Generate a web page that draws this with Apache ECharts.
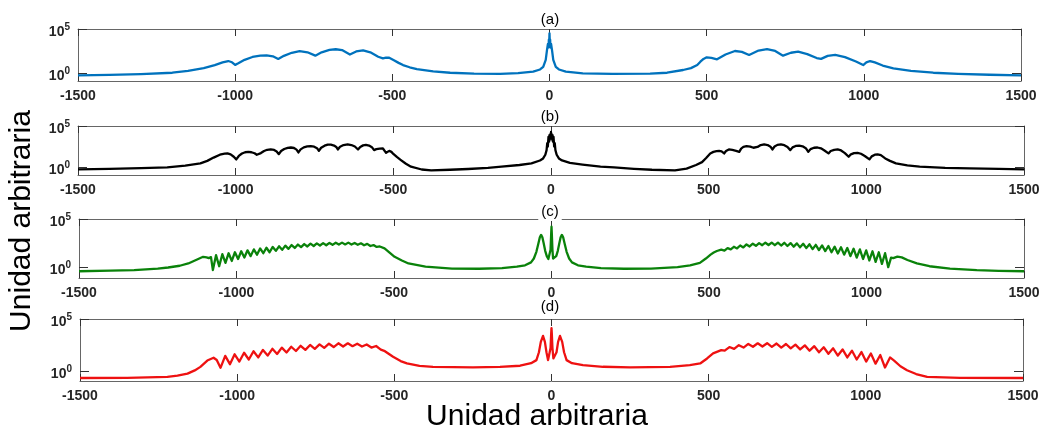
<!DOCTYPE html>
<html>
<head>
<meta charset="utf-8">
<script src="https://cdn.jsdelivr.net/npm/echarts@6/dist/echarts.min.js"></script>
<style>
html,body{margin:0;padding:0;background:#fff;}
#chart{width:1046px;height:434px;}
</style>
</head>
<body>
<div id="chart"></div>
<script>
// ---------- DATA (y values are log10 exponents) ----------
const xTickValues = [-1500, -1000, -500, 0, 500, 1000, 1500];
const yTickExponents = [0, 5];
const panelLabels = ['(a)', '(b)', '(c)', '(d)'];
const axisTitle = 'Unidad arbitraria';

const curveA = [[-1500,-0.27],[-1400,-0.22],[-1300,-0.13],[-1200,0.03],[-1150,0.25],[-1100,0.55],[-1065,0.9],[-1040,1.2],[-1022,1.36],[-1010,1.22],[-1000,0.92],[-990,1.1],[-970,1.5],[-945,1.82],[-920,1.97],[-900,2.0],[-880,1.9],[-863,1.6],[-845,1.95],[-820,2.3],[-795,2.48],[-770,2.35],[-745,1.97],[-725,2.35],[-700,2.62],[-680,2.7],[-660,2.6],[-635,2.1],[-615,2.45],[-593,2.58],[-570,2.35],[-545,1.85],[-530,1.67],[-520,1.75],[-510,1.73],[-495,1.45],[-480,1.15],[-466,0.9],[-445,0.65],[-422,0.45],[-370,0.19],[-316,0.03],[-240,-0.07],[-157,-0.1],[-100,-0.02],[-52,0.15],[-30,0.4],[-20,0.7],[-12,1.5],[-8,2.6],[-5,3.3],[-3,2.9],[-2,3.8],[-1,3.4],[0,4.5],[1,3.4],[2,3.8],[3,2.9],[5,3.3],[8,2.6],[12,1.5],[20,0.7],[30,0.4],[52,0.15],[106,-0.04],[200,-0.11],[320,-0.08],[374,0.03],[425,0.34],[450,0.55],[470,0.9],[480,1.28],[490,1.6],[500,1.78],[515,1.72],[533,1.56],[560,2.1],[590,2.5],[612,2.4],[635,2.05],[665,2.55],[692,2.7],[718,2.5],[743,1.97],[768,2.3],[791,2.42],[820,2.15],[850,1.7],[864,1.6],[885,1.95],[909,2.05],[940,1.8],[975,1.3],[998,0.9],[1008,1.2],[1020,1.36],[1035,1.2],[1060,0.85],[1094,0.53],[1150,0.25],[1221,0.03],[1300,-0.1],[1400,-0.2],[1500,-0.26]];

const curveB = [[-1500,-0.28],[-1400,-0.22],[-1300,-0.14],[-1217,-0.04],[-1160,0.18],[-1112,0.45],[-1090,0.75],[-1070,1.15],[-1050,1.5],[-1035,1.63],[-1026,1.66],[-1016,1.55],[-1006,1.25],[-998,0.93],[-990,1.35],[-980,1.65],[-970,1.8],[-960,1.85],[-950,1.8],[-940,1.68],[-933,1.5],[-927,1.33],[-920,1.7],[-910,1.95],[-900,2.1],[-889,2.14],[-878,2.08],[-870,1.9],[-863,1.57],[-856,1.95],[-846,2.2],[-835,2.34],[-825,2.38],[-815,2.32],[-807,2.12],[-801,1.78],[-794,2.15],[-784,2.4],[-773,2.52],[-762,2.54],[-751,2.48],[-742,2.3],[-736,1.97],[-729,2.35],[-718,2.6],[-708,2.73],[-698,2.72],[-688,2.62],[-681,2.45],[-676,2.14],[-669,2.48],[-658,2.68],[-645,2.75],[-633,2.68],[-622,2.5],[-612,2.14],[-605,2.45],[-596,2.64],[-587,2.7],[-577,2.62],[-568,2.42],[-561,2.06],[-554,2.18],[-543,2.25],[-533,2.26],[-527,2.05],[-523,1.73],[-518,1.9],[-513,1.97],[-506,1.85],[-500,1.6],[-488,1.2],[-476,0.85],[-460,0.4],[-444,0.04],[-410,-0.3],[-380,-0.4],[-320,-0.33],[-263,-0.24],[-200,-0.1],[-157,0.04],[-100,0.25],[-62,0.45],[-35,0.8],[-25,1.05],[-18,1.5],[-14,2.06],[-12,2.9],[-10,2.5],[-8,3.67],[-6,3.1],[-5,3.9],[-4,3.3],[-2,4.0],[-1,3.6],[0,4.27],[1,3.6],[2,4.0],[4,3.3],[5,3.9],[6,3.1],[8,3.67],[10,2.5],[12,2.9],[14,2.06],[18,1.5],[25,1.05],[35,0.8],[60,0.5],[100,0.3],[157,0.05],[200,-0.05],[263,-0.22],[320,-0.33],[393,-0.4],[430,-0.2],[460,0.25],[479,0.6],[492,1.1],[505,1.66],[515,1.85],[525,1.95],[533,1.97],[541,1.9],[549,1.66],[555,1.95],[564,2.14],[575,2.08],[587,1.98],[597,1.85],[603,2.25],[610,2.45],[620,2.54],[632,2.48],[642,2.35],[648,2.14],[655,2.45],[665,2.68],[676,2.75],[687,2.68],[696,2.48],[702,2.14],[709,2.5],[718,2.7],[729,2.75],[740,2.66],[750,2.45],[759,2.06],[766,2.4],[776,2.57],[787,2.6],[798,2.52],[808,2.3],[816,1.85],[823,2.18],[834,2.35],[845,2.38],[856,2.28],[866,2.05],[880,1.66],[887,1.95],[898,2.1],[909,2.14],[920,2.02],[932,1.7],[944,1.25],[951,1.55],[961,1.7],[972,1.73],[983,1.62],[995,1.35],[1010,0.93],[1017,1.3],[1027,1.5],[1036,1.54],[1046,1.45],[1060,1.05],[1075,0.75],[1094,0.45],[1130,0.2],[1169,0.04],[1250,-0.1],[1328,-0.16],[1420,-0.23],[1500,-0.28]];

const curveC = [[-1500,-0.42],[-1400,-0.36],[-1325,-0.31],[-1250,-0.15],[-1217,-0.03],[-1180,0.15],[-1153,0.39],[-1125,0.8],[-1106,1.08],[-1095,1.02],[-1088,0.94],[-1081,1.05],[-1075,-0.3],[-1065,1.25],[-1055,0.1],[-1045,1.35],[-1035,0.45],[-1025,1.45],[-1015,0.65],[-1005,1.55],[-995,0.85],[-985,1.65],[-975,1.0],[-965,1.75],[-955,1.15],[-945,1.85],[-935,1.3],[-925,1.95],[-915,1.45],[-905,2.02],[-895,1.55],[-885,2.1],[-875,1.7],[-865,2.17],[-855,1.8],[-845,2.24],[-835,1.9],[-825,2.3],[-815,2.0],[-805,2.35],[-795,2.08],[-785,2.4],[-775,2.15],[-765,2.44],[-755,2.2],[-745,2.47],[-735,2.25],[-725,2.5],[-715,2.28],[-705,2.52],[-695,2.32],[-685,2.54],[-675,2.35],[-665,2.55],[-655,2.36],[-645,2.55],[-635,2.35],[-625,2.52],[-615,2.33],[-605,2.48],[-595,2.28],[-585,2.42],[-575,2.2],[-565,2.3],[-555,2.1],[-545,2.15],[-530,1.96],[-515,1.55],[-498,1.08],[-475,0.7],[-454,0.39],[-400,0.05],[-316,-0.14],[-230,-0.16],[-157,-0.1],[-110,0.05],[-84,0.2],[-65,0.5],[-56,0.9],[-48,1.6],[-42,2.4],[-37,3.1],[-33,3.35],[-29,3.1],[-25,2.5],[-20,1.7],[-15,1.15],[-10,0.85],[-5,0.9],[-3,1.8],[-1,3.5],[0,4.2],[1,3.5],[3,1.8],[5,0.9],[10,0.85],[15,1.15],[20,1.7],[25,2.5],[29,3.1],[33,3.35],[37,3.1],[42,2.4],[48,1.6],[56,0.9],[65,0.5],[84,0.2],[110,0.05],[157,-0.1],[230,-0.16],[316,-0.14],[400,0.0],[440,0.2],[471,0.45],[490,0.9],[505,1.3],[515,1.52],[525,1.68],[539,1.82],[549,1.72],[559,1.98],[569,1.85],[579,2.12],[589,1.95],[599,2.25],[609,2.05],[619,2.36],[629,2.15],[639,2.44],[649,2.22],[659,2.5],[669,2.28],[679,2.54],[689,2.3],[699,2.55],[709,2.28],[719,2.55],[729,2.25],[739,2.53],[749,2.2],[759,2.5],[769,2.13],[779,2.47],[789,2.06],[799,2.43],[809,1.98],[819,2.38],[829,1.88],[839,2.32],[849,1.78],[859,2.26],[869,1.67],[879,2.2],[889,1.55],[899,2.13],[909,1.42],[919,2.07],[929,1.3],[939,2.0],[949,1.15],[959,1.92],[969,1.0],[979,1.85],[989,0.85],[999,1.75],[1009,0.7],[1019,1.65],[1029,0.55],[1039,1.55],[1049,0.35],[1059,1.45],[1069,0.0],[1078,1.0],[1085,0.95],[1098,1.1],[1112,1.02],[1130,0.75],[1160,0.39],[1200,0.1],[1265,-0.14],[1350,-0.3],[1420,-0.38],[1500,-0.42]];

const curveD = [[-1500,-0.68],[-1350,-0.66],[-1222,-0.58],[-1190,-0.45],[-1158,-0.26],[-1135,0.05],[-1117,0.39],[-1095,1.0],[-1075,1.27],[-1065,1.05],[-1053,0.3],[-1038,1.45],[-1023,0.65],[-1008,1.6],[-993,0.9],[-978,1.75],[-963,1.1],[-948,1.9],[-933,1.3],[-918,2.02],[-903,1.48],[-888,2.13],[-873,1.63],[-858,2.24],[-843,1.78],[-828,2.33],[-813,1.92],[-798,2.42],[-783,2.03],[-768,2.5],[-753,2.13],[-738,2.56],[-723,2.22],[-708,2.62],[-693,2.3],[-678,2.66],[-663,2.35],[-648,2.66],[-633,2.38],[-618,2.62],[-603,2.35],[-588,2.55],[-573,2.25],[-558,2.4],[-543,2.05],[-530,1.9],[-504,1.36],[-480,0.95],[-460,0.72],[-420,0.48],[-377,0.39],[-250,0.35],[-164,0.39],[-100,0.5],[-65,0.75],[-48,1.04],[-40,1.8],[-34,2.8],[-27,3.37],[-21,2.8],[-16,1.8],[-11,1.04],[-6,1.2],[-3,2.2],[-1,3.6],[0,4.12],[1,3.6],[3,2.2],[6,1.2],[11,1.04],[16,1.8],[21,2.8],[27,3.37],[34,2.8],[40,1.8],[48,1.04],[65,0.75],[100,0.55],[164,0.4],[250,0.35],[377,0.39],[440,0.55],[473,0.72],[495,1.2],[514,1.69],[530,1.88],[540,2.0],[551,1.95],[566,2.3],[581,2.12],[596,2.48],[611,2.25],[626,2.6],[641,2.33],[656,2.66],[671,2.35],[686,2.67],[701,2.32],[716,2.64],[731,2.25],[746,2.59],[761,2.17],[776,2.53],[791,2.07],[806,2.46],[821,1.95],[836,2.38],[851,1.8],[866,2.28],[881,1.65],[896,2.18],[911,1.48],[926,2.07],[941,1.3],[956,1.95],[971,1.1],[986,1.82],[1001,0.9],[1016,1.68],[1031,0.7],[1046,1.53],[1061,0.33],[1077,1.3],[1090,1.0],[1110,0.45],[1131,0.07],[1160,-0.3],[1195,-0.58],[1300,-0.66],[1500,-0.68]];

// ---------- LAYOUT / STYLE ----------
const FONT = "'Liberation Sans', Arial, Helvetica, sans-serif";
const FRAME = '#666666';
const panels = [
  {data: curveA, color: '#0072BD', left: 78, top: 29, width: 943, height: 52, yMin: -0.91, titleY: 20},
  {data: curveB, color: '#000000', left: 78, top: 126, width: 946, height: 49, yMin: -0.97, titleY: 117},
  {data: curveC, color: '#0a820a', left: 79, top: 219, width: 945, height: 59, yMin: -1.12, titleY: 212},
  {data: curveD, color: '#ee1111', left: 80, top: 319, width: 943, height: 62, yMin: -0.97, titleY: 307}
];

const grid = [], xAxis = [], yAxis = [], series = [], graphic = [];
panels.forEach((p, i) => {
  grid.push({left: p.left, top: p.top, width: p.width, height: p.height, containLabel: false});
  const xBase = {
    type: 'value', gridIndex: i, min: -1500, max: 1500,
    axisLine: {show: true, onZero: false, lineStyle: {color: FRAME, width: 1}},
    axisTick: {show: true, inside: true, length: 7, customValues: xTickValues, lineStyle: {color: '#333', width: 1}},
    splitLine: {show: false}
  };
  xAxis.push(Object.assign({}, xBase, {
    position: 'bottom',
    axisLabel: {show: true, customValues: xTickValues, margin: 8, formatter: v => String(v),
      fontFamily: FONT, fontSize: 14, fontWeight: 'bold', color: '#262626'}
  }));
  xAxis.push(Object.assign({}, xBase, {position: 'top', axisLabel: {show: false}}));
  const yBase = {
    type: 'value', gridIndex: i, min: p.yMin, max: 5,
    axisLine: {show: true, onZero: false, lineStyle: {color: FRAME, width: 1}},
    axisTick: {show: true, inside: true, length: 9, customValues: yTickExponents, lineStyle: {color: '#333', width: 1}},
    splitLine: {show: false}
  };
  yAxis.push(Object.assign({}, yBase, {
    position: 'left',
    axisLabel: {show: true, customValues: yTickExponents, margin: 8,
      formatter: v => '{b|10}{s|' + v + '}',
      rich: {
        b: {fontFamily: FONT, fontSize: 14, fontWeight: 'bold', color: '#262626', lineHeight: 14, padding: [6, 0, 0, 0]},
        s: {fontFamily: FONT, fontSize: 10, fontWeight: 'bold', color: '#262626', lineHeight: 14, verticalAlign: 'top'}
      }}
  }));
  yAxis.push(Object.assign({}, yBase, {position: 'right', axisLabel: {show: false}}));
  series.push({
    type: 'line', xAxisIndex: 2 * i, yAxisIndex: 2 * i, data: p.data,
    showSymbol: false, symbol: 'none', smooth: false, sampling: null,
    lineStyle: {color: p.color, width: 2.3, join: 'round'}, itemStyle: {color: p.color},
    clip: true, animation: false, z: 3
  });
  graphic.push({
    type: 'text', x: 550, y: p.titleY, z: 100,
    style: {text: panelLabels[i], fontFamily: FONT, fontSize: 15, fill: '#000',
      align: 'center', verticalAlign: 'middle', backgroundColor: '#fff', padding: [1, 3, 2, 3]}
  });
});

graphic.push({
  type: 'text', x: 537, y: 417, z: 100,
  style: {text: axisTitle, fontFamily: FONT, fontSize: 30, fill: '#000', align: 'center', verticalAlign: 'middle'}
});
graphic.push({
  type: 'text', x: 22, y: 221, rotation: Math.PI / 2, z: 100,
  style: {text: axisTitle, fontFamily: FONT, fontSize: 30, fill: '#000', align: 'center', verticalAlign: 'middle'}
});

const chart = echarts.init(document.getElementById('chart'), null, {renderer: 'canvas'});
chart.setOption({
  animation: false,
  backgroundColor: '#ffffff',
  grid, xAxis, yAxis, series, graphic
});
</script>
</body>
</html>
